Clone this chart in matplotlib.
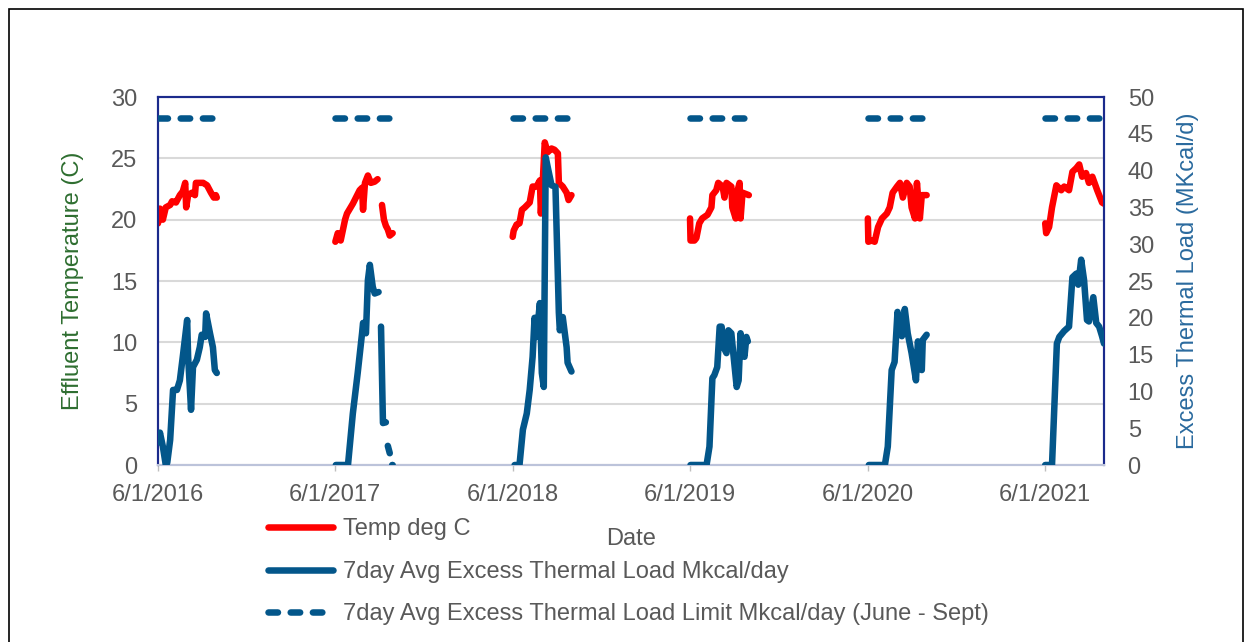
import matplotlib
matplotlib.use("Agg")
import matplotlib.pyplot as plt
from matplotlib.patches import Rectangle
import numpy as np
import pandas as pd

nan = np.nan

# Effluent temperature (deg C), June - September of each year
temp_dates = [
    "2016-06-01", "2016-06-05", "2016-06-11", "2016-06-17", "2016-06-26", "2016-06-30",
    "2016-07-08", "2016-07-16", "2016-07-22", "2016-07-27", "2016-07-29", "2016-08-02",
    "2016-08-10", "2016-08-16", "2016-08-18", "2016-09-02", "2016-09-10", "2016-09-18",
    "2016-09-24", "2016-09-28", "2016-09-30",
    "2017-06-01", "2017-06-06", "2017-06-12", "2017-06-21", "2017-06-25", "2017-07-07",
    "2017-07-21", "2017-07-26", "2017-07-28", "2017-08-01", "2017-08-07", "2017-08-13",
    "2017-08-21", "2017-08-27", "2017-08-31", "2017-09-05", "2017-09-09", "2017-09-13",
    "2017-09-17", "2017-09-21", "2017-09-27",
    "2018-06-01", "2018-06-03", "2018-06-09", "2018-06-15", "2018-06-20", "2018-06-26",
    "2018-07-06", "2018-07-12", "2018-07-20", "2018-07-27", "2018-07-29", "2018-08-02",
    "2018-08-06", "2018-08-12", "2018-08-20", "2018-08-26", "2018-09-02", "2018-09-04",
    "2018-09-12", "2018-09-20", "2018-09-24", "2018-09-30",
    "2019-06-01", "2019-06-02", "2019-06-10", "2019-06-14", "2019-06-20", "2019-06-26",
    "2019-07-07", "2019-07-15", "2019-07-17", "2019-07-25", "2019-07-29", "2019-08-07",
    "2019-08-11", "2019-08-15", "2019-08-25", "2019-08-27", "2019-09-03", "2019-09-07",
    "2019-09-11", "2019-09-13", "2019-09-17", "2019-09-30",
    "2020-06-01", "2020-06-02", "2020-06-09", "2020-06-15", "2020-06-22", "2020-06-30",
    "2020-07-10", "2020-07-16", "2020-07-22", "2020-07-31", "2020-08-06", "2020-08-12",
    "2020-08-20", "2020-08-26", "2020-08-30", "2020-09-06", "2020-09-10", "2020-09-16",
    "2020-09-20", "2020-09-30",
    "2021-06-01", "2021-06-03", "2021-06-09", "2021-06-15", "2021-06-24", "2021-07-04",
    "2021-07-10", "2021-07-20", "2021-07-27", "2021-08-04", "2021-08-10", "2021-08-16",
    "2021-08-24", "2021-08-30", "2021-09-06", "2021-09-16", "2021-09-26", "2021-09-30",
]
temp_degc = [
    19.7, 20.9, 20.0, 21.0, 21.2, 21.5, 21.4, 22.0, 22.3, 23.0, 21.0, 22.0,
    22.2, 22.0, 23.0, 23.0, 22.8, 22.2, 21.8, 22.0, 21.8,
    18.2, 18.9, 18.3, 20.0, 20.5, 21.3, 22.4, 22.6, 20.8, 23.0, 23.6, 23.0,
    23.1, 23.3, nan, 21.2, 20.0, 19.5, 19.2, 18.7, 18.9,
    18.6, 19.1, 19.6, 19.7, 20.8, 21.0, 21.4, 22.7, 22.7, 23.2, 20.5, 23.2,
    26.3, 25.5, 25.8, 25.7, 25.4, 23.0, 22.7, 22.2, 21.6, 22.0,
    20.1, 18.3, 18.3, 18.5, 19.7, 20.1, 20.4, 21.0, 22.0, 22.4, 23.0, 22.7,
    21.8, 23.0, 22.7, 21.0, 20.1, 22.4, 23.0, 20.1, 22.2, 22.0,
    20.1, 18.2, 18.3, 18.2, 19.4, 20.1, 20.5, 21.0, 22.2, 22.7, 23.0, 21.8,
    23.0, 22.7, 21.0, 20.1, 23.0, 20.1, 22.0, 22.0,
    19.7, 18.9, 19.4, 21.0, 22.8, 22.4, 22.7, 22.4, 23.9, 24.2, 24.5, 23.5,
    23.8, 23.0, 23.5, 22.4, 21.4, 21.3,
]

# 7-day average excess thermal load (Mkcal/day)
load_dates = [
    "2016-06-02", "2016-06-05", "2016-06-11", "2016-06-17", "2016-06-20", "2016-06-26",
    "2016-07-02", "2016-07-10", "2016-07-16", "2016-07-22", "2016-07-31", "2016-08-02",
    "2016-08-08", "2016-08-12", "2016-08-20", "2016-08-26", "2016-08-30", "2016-09-06",
    "2016-09-08", "2016-09-16", "2016-09-22", "2016-09-26", "2016-09-30",
    "2017-06-02", "2017-06-27", "2017-07-07", "2017-07-17", "2017-07-26", "2017-07-28",
    "2017-08-03", "2017-08-07", "2017-08-11", "2017-08-17", "2017-08-21", "2017-08-29",
    "2017-09-01", "2017-09-03", "2017-09-07", "2017-09-13", "2017-09-15", "2017-09-17",
    "2017-09-21", "2017-09-24", "2017-09-26", "2017-09-27",
    "2018-06-05", "2018-06-15", "2018-06-22", "2018-06-30", "2018-07-06", "2018-07-12",
    "2018-07-16", "2018-07-20", "2018-07-27", "2018-07-31", "2018-08-04", "2018-08-08",
    "2018-08-12", "2018-08-20", "2018-08-28", "2018-09-04", "2018-09-06", "2018-09-12",
    "2018-09-20", "2018-09-22", "2018-09-30",
    "2019-06-02", "2019-07-05", "2019-07-11", "2019-07-17", "2019-07-21", "2019-07-27",
    "2019-08-01", "2019-08-05", "2019-08-09", "2019-08-15", "2019-08-19", "2019-08-25",
    "2019-08-29", "2019-09-05", "2019-09-09", "2019-09-13", "2019-09-17", "2019-09-21",
    "2019-09-25", "2019-09-28",
    "2020-06-03", "2020-07-06", "2020-07-12", "2020-07-20", "2020-07-26", "2020-08-01",
    "2020-08-10", "2020-08-16", "2020-08-22", "2020-08-30", "2020-09-08", "2020-09-12",
    "2020-09-20", "2020-09-22", "2020-09-30",
    "2021-06-01", "2021-06-15", "2021-06-25", "2021-06-30", "2021-07-10", "2021-07-20",
    "2021-07-27", "2021-08-04", "2021-08-08", "2021-08-14", "2021-08-20", "2021-08-26",
    "2021-08-30", "2021-09-08", "2021-09-14", "2021-09-20", "2021-09-26", "2021-09-30",
]
load_mkcal = [
    3.1, 4.4, 2.5, 0.0, 0.3, 3.4, 10.2, 10.2, 11.5, 14.7, 19.7, 14.7,
    7.5, 13.3, 14.3, 16.0, 17.7, 17.4, 20.6, 17.9, 16.0, 12.9, 12.5,
    0.0, 0.0, 7.0, 12.5, 17.9, 19.3, 17.9, 25.1, 27.2, 24.2, 23.3, 23.5,
    nan, 18.8, 5.7, 5.8, nan, 2.6, 1.6, nan, 0.0, 0.0,
    0.0, 0.0, 4.8, 7.0, 10.2, 14.7, 20.0, 17.4, 22.0, 12.5, 10.6, 41.8,
    40.5, 38.0, 37.8, 20.7, 18.3, 20.1, 16.0, 13.9, 12.7,
    0.0, 0.0, 2.5, 11.8, 12.2, 13.3, 18.8, 18.8, 16.0, 15.2, 18.3, 17.9,
    15.2, 10.6, 11.5, 17.9, 15.5, 14.7, 17.4, 16.8,
    0.0, 0.0, 2.5, 12.9, 14.0, 20.8, 17.5, 21.2, 17.9, 15.2, 11.5, 16.8,
    12.9, 17.0, 17.7,
    0.0, 0.0, 16.5, 17.4, 18.2, 18.8, 25.5, 26.0, 24.5, 27.9, 25.1, 19.7,
    19.5, 22.8, 19.3, 18.8, 17.5, 16.5,
]

# Permit limit on the 7-day average excess thermal load, June - Sept
limit_mkcal = 47.1
limit_years = [2016, 2017, 2018, 2019, 2020, 2021]
limit_window = ("06-01", "09-30")

x_tick_dates = ["2016-06-01", "2017-06-01", "2018-06-01", "2019-06-01", "2020-06-01", "2021-06-01"]
x_tick_labels = ["6/1/2016", "6/1/2017", "6/1/2018", "6/1/2019", "6/1/2020", "6/1/2021"]
x_range = ("2016-06-01", "2021-09-30")

RED = "#FF0000"
BLUE = "#03568A"
TXT = "#595959"
NAVY = "#1B2A8C"
FS = 17

plt.rcParams["font.family"] = ["Liberation Sans", "DejaVu Sans"]

W, H = 1247, 642
fig = plt.figure(figsize=(W / 100, H / 100), dpi=100)
ax = fig.add_axes([158 / W, 1 - 465 / H, (1104 - 158) / W, (465 - 97) / H])
ax2 = ax.twinx()

temp = pd.DataFrame({"date": pd.to_datetime(temp_dates), "v": temp_degc})
load = pd.DataFrame({"date": pd.to_datetime(load_dates), "v": load_mkcal})

lw = 4.7
red_handle = blue_handle = lim_handle = None
for yr, g in temp.groupby(temp["date"].dt.year):
    (ln,) = ax.plot(g["date"], g["v"], color=RED, lw=lw,
                    solid_capstyle="round", solid_joinstyle="round", zorder=3)
    red_handle = red_handle or ln

for yr, g in load.groupby(load["date"].dt.year):
    (ln,) = ax2.plot(g["date"], g["v"], color=BLUE, lw=lw,
                     solid_capstyle="round", solid_joinstyle="round", zorder=3)
    blue_handle = blue_handle or ln

for yr in limit_years:
    d = pd.to_datetime([f"{yr}-{limit_window[0]}", f"{yr}-{limit_window[1]}"])
    (ln,) = ax2.plot(d, [limit_mkcal, limit_mkcal], color=BLUE, lw=lw,
                     dashes=(1.45, 1.95), dash_capstyle="round", zorder=3)
    lim_handle = lim_handle or ln

ax.set_xlim(pd.Timestamp(x_range[0]), pd.Timestamp(x_range[1]))
ax.set_ylim(0, 30)
ax2.set_ylim(0, 50)
ax.set_yticks(np.arange(0, 31, 5))
ax2.set_yticks(np.arange(0, 51, 5))
ax.set_xticks(pd.to_datetime(x_tick_dates))
ax.set_xticklabels(x_tick_labels)

ax.yaxis.grid(True, color="#D9D9D9", linewidth=1.5)
ax.set_axisbelow(True)

ax.tick_params(axis="x", length=4.5, width=1, color="#BFBFBF", labelsize=FS,
               labelcolor=TXT, pad=9.5)
ax.tick_params(axis="y", length=0, labelsize=FS, labelcolor=TXT, pad=15)
ax2.tick_params(axis="y", length=0, labelsize=FS, labelcolor=TXT, pad=17)

for a in (ax, ax2):
    for side in ("left", "top", "right"):
        a.spines[side].set_color(NAVY)
        a.spines[side].set_linewidth(1.5)
    a.spines["bottom"].set_color("#BCC3DA")
    a.spines["bottom"].set_linewidth(1.5)

ax.set_ylabel("Effluent Temperature (C)", fontsize=FS, color="#2E6E30", va="center")
ax.yaxis.set_label_coords(-(158 - 73) / 946, 0.5)
ax2.set_ylabel("Excess Thermal Load (MKcal/d)", fontsize=FS, color="#2A6A9E",
               va="center", rotation=90)
ax2.yaxis.set_label_coords(1 + (1188 - 1104) / 946, 0.5)
ax.set_xlabel("Date", fontsize=FS, color=TXT, va="center")
ax.xaxis.set_label_coords(0.5, -(539 - 465) / 368)

fig.legend([red_handle, blue_handle, lim_handle],
           ["Temp deg C", "7day Avg Excess Thermal Load Mkcal/day",
            "7day Avg Excess Thermal Load Limit Mkcal/day (June - Sept)"],
           loc="upper left", bbox_to_anchor=(268 / W, 1 - 518.5 / H),
           frameon=False, fontsize=FS, labelcolor=TXT, handlelength=2.75,
           handletextpad=0.42, labelspacing=0.86, borderpad=0, borderaxespad=0)

# chart-area outline
fig.patches.append(Rectangle((8.5 / W, -0.05), (1242.5 - 8.5) / W, 1.05 - 8.5 / H,
                             transform=fig.transFigure, fill=False,
                             edgecolor="black", linewidth=1.2))

fig.savefig("out.png", dpi=100)
